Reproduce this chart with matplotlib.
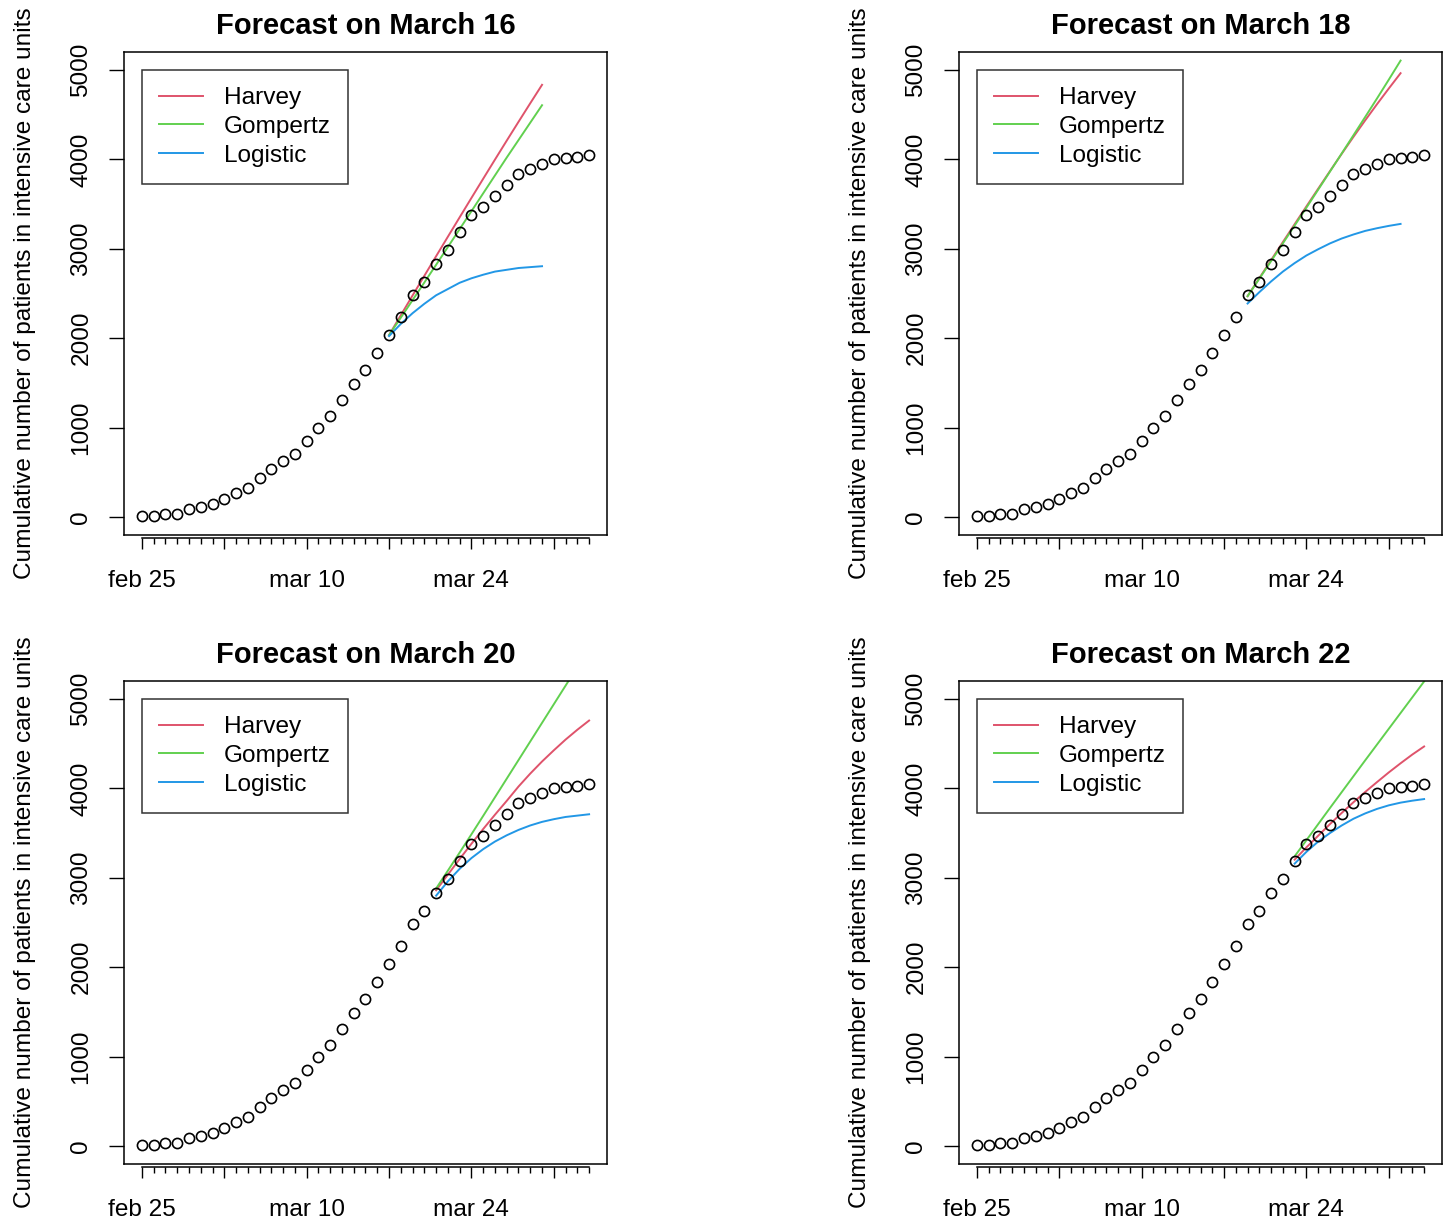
"""
ICU forecasts: Harvey / Gompertz / Logistic fits made on four dates,
plotted against the observed cumulative ICU admissions.
"""

import matplotlib

matplotlib.use("Agg")
import matplotlib.pyplot as plt
import numpy as np

plt.rcParams["font.family"] = ["Liberation Sans", "DejaVu Sans"]

# observed series, one value per day starting feb 25
start_date = np.datetime64("2020-02-25")
icu = [8, 15, 33, 37, 86, 115, 142, 205, 272, 327,
       439, 543, 625, 710, 852, 1001, 1131, 1306, 1492, 1648,
       1830, 2035, 2240, 2478, 2634, 2835, 2987, 3184, 3374, 3464,
       3590, 3709, 3832, 3888, 3951, 4003, 4014, 4025, 4044]

titles = ["Forecast on March 16", "Forecast on March 18",
          "Forecast on March 20", "Forecast on March 22"]
# first forecast day (index into icu) for each panel
fc_start = [21, 23, 25, 27]

harvey = [
    [2035, 2257, 2478, 2698, 2917, 3135, 3352, 3568, 3783, 3997, 4209, 4419, 4627, 4833],
    [2470, 2672, 2874, 3075, 3275, 3474, 3672, 3868, 4062, 4252, 4437, 4617, 4792, 4963],
    [2860, 3035, 3210, 3380, 3545, 3705, 3860, 4020, 4165, 4300, 4425, 4545, 4655, 4758],
    [3203, 3340, 3470, 3600, 3725, 3845, 3960, 4070, 4178, 4280, 4378, 4468],
]
gompertz = [
    [2035, 2230, 2426, 2623, 2821, 3020, 3220, 3420, 3620, 3820, 4020, 4215, 4410, 4605],
    [2470, 2666, 2863, 3061, 3260, 3460, 3661, 3863, 4066, 4270, 4475, 4681, 4891, 5104],
    [2880, 3080, 3282, 3486, 3692, 3900, 4108, 4316, 4524, 4732, 4940, 5148, 5356, 5564],
    [3240, 3420, 3600, 3780, 3958, 4136, 4314, 4490, 4666, 4842, 5018, 5195],
]
logistic = [
    [2024, 2160, 2280, 2385, 2480, 2550, 2620, 2670, 2710, 2745, 2765, 2785, 2795, 2805],
    [2388, 2515, 2635, 2745, 2840, 2925, 2995, 3060, 3115, 3160, 3200, 3230, 3256, 3278],
    [2800, 2960, 3100, 3220, 3320, 3405, 3475, 3535, 3585, 3625, 3655, 3680, 3695, 3710],
    [3158, 3290, 3405, 3500, 3585, 3660, 3720, 3770, 3810, 3840, 3862, 3880],
]

model_names = ["Harvey", "Gompertz", "Logistic"]
model_colors = ["#DF536B", "#61D04F", "#2297E6"]

y_ticks = [0, 1000, 2000, 3000, 4000, 5000]
major_days = [0, 7, 14, 21, 28, 35]
# R drops the labels that would overlap
x_labels = ["feb 25", "", "mar 10", "", "mar 24", ""]

W, H = 1449, 1222
fig = plt.figure(figsize=(W / 100, H / 100), dpi=100)

# axes boxes in pixels: (left, top)
boxes = [(124, 52), (959, 52), (124, 681), (959, 681)]
box_w, box_h = 483, 483
FS = 17.6

days = np.arange(len(icu))

for k, (left, top) in enumerate(boxes):
    ax = fig.add_axes([left / W, 1 - (top + box_h) / H, box_w / W, box_h / H])

    x0 = fc_start[k]
    for series, name, col in zip([harvey, gompertz, logistic], model_names, model_colors):
        vals = series[k]
        ax.plot(np.arange(x0, x0 + len(vals)), vals, color=col, lw=1.4, label=name)

    ax.plot(days, icu, "o", ms=7.3, mfc="none", mec="black", mew=1.2, zorder=4)

    ax.set_xlim(-0.04 * 38, 38 * 1.04)
    ax.set_ylim(-200, 5200)

    ax.set_yticks(y_ticks)
    ax.set_yticklabels([str(v) for v in y_ticks], rotation=90, va="center")
    ax.tick_params(axis="y", length=10.8, width=1.0, pad=12, labelsize=FS)

    ax.set_xticks(major_days)
    ax.set_xticklabels(x_labels)
    ax.set_xticks(days, minor=True)
    ax.tick_params(axis="x", which="major", length=8, width=1.0, pad=15, labelsize=FS)
    ax.tick_params(axis="x", which="minor", length=4, width=1.0)

    # x axis line sits just under the box and spans first..last tick
    ax.spines["bottom"].set_position(("outward", 2.5))
    ax.spines["bottom"].set_bounds(0, 38)
    for s in ["left", "top", "right", "bottom"]:
        ax.spines[s].set_linewidth(1.1)
    ax.plot([0, 1], [0, 0], transform=ax.transAxes, color="black", lw=1.1,
            clip_on=False, zorder=5)

    ax.set_title(titles[k], fontsize=21, fontweight="bold", pad=13)
    ax.set_ylabel("Cumulative number of patients in intensive care units",
                  fontsize=FS, labelpad=25)

    leg = ax.legend(loc="upper left", bbox_to_anchor=(0, 5000),
                    bbox_transform=ax.transData, borderaxespad=0,
                    fontsize=FS, frameon=True, fancybox=False,
                    handlelength=1.8, handletextpad=0.85, borderpad=0.7,
                    labelspacing=0.27)
    leg.get_frame().set_edgecolor("black")
    leg.get_frame().set_linewidth(1.1)

fig.savefig("out.png", dpi=100)
